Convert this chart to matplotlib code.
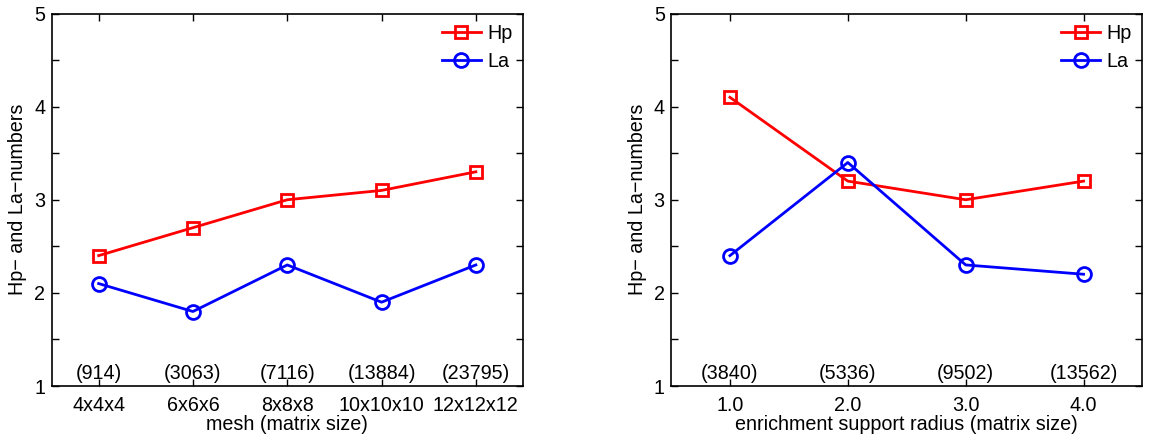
import matplotlib
matplotlib.use("Agg")
import matplotlib.pyplot as plt
from matplotlib.ticker import MultipleLocator

plt.rcParams['font.family'] = ['Liberation Sans', 'DejaVu Sans']

# Left panel data
mesh_labels = ['4x4x4', '6x6x6', '8x8x8', '10x10x10', '12x12x12']
mesh_sizes = ['(914)', '(3063)', '(7116)', '(13884)', '(23795)']
mesh_hp = [2.4, 2.7, 3.0, 3.1, 3.3]
mesh_la = [2.1, 1.8, 2.3, 1.9, 2.3]

# Right panel data
radius_labels = ['1.0', '2.0', '3.0', '4.0']
radius_sizes = ['(3840)', '(5336)', '(9502)', '(13562)']
radius_hp = [4.1, 3.2, 3.0, 3.2]
radius_la = [2.4, 3.4, 2.3, 2.2]

W, H = 1149, 436
fig = plt.figure(figsize=(W / 100, H / 100), dpi=100)
ax1 = fig.add_axes([51.5 / W, (H - 386) / H, 471.5 / W, 372.5 / H])
ax2 = fig.add_axes([671 / W, (H - 386) / H, 471.5 / W, 372.5 / H])

FS = 14.2

def draw(ax, labels, sizes, hp, la, xlabel):
    x = list(range(1, len(labels) + 1))
    ax.plot(x, hp, color='#ff0000', lw=2, marker='s', ms=8.5, mfc='none',
            mec='#ff0000', mew=2, label='Hp')
    ax.plot(x, la, color='#0000ff', lw=2, marker='o', ms=10, mfc='none',
            mec='#0000ff', mew=2, label='La')
    for xi, s in zip(x, sizes):
        ax.text(xi, 1.136, s, ha='center', va='center', fontsize=FS)
    ax.set_xlim(0.5, len(labels) + 0.5)
    ax.set_ylim(1, 5)
    ax.set_xticks(x)
    ax.set_xticklabels(labels, fontsize=FS)
    ax.set_yticks([1, 2, 3, 4, 5])
    ax.set_yticklabels(['1', '2', '3', '4', '5'], fontsize=FS)
    ax.yaxis.set_minor_locator(MultipleLocator(0.5))
    ax.tick_params(which='both', direction='in', top=True, right=True,
                   length=5, width=1)
    ax.tick_params(axis='x', which='both', pad=7)
    ax.tick_params(axis='y', which='both', pad=4.5)
    for sp in ax.spines.values():
        sp.set_linewidth(1.2)
    ax.set_xlabel(xlabel, fontsize=FS, labelpad=0)
    ax.set_ylabel('Hp\u2212 and La\u2212numbers', fontsize=FS, labelpad=5)
    ax.legend(loc='upper right', frameon=False, fontsize=FS,
              handlelength=2.0, handletextpad=0.3, labelspacing=0.45,
              borderaxespad=0.25, borderpad=0.3)

draw(ax1, mesh_labels, mesh_sizes, mesh_hp, mesh_la, 'mesh (matrix size)')
draw(ax2, radius_labels, radius_sizes, radius_hp, radius_la,
     'enrichment support radius (matrix size)')

fig.savefig('out.png', dpi=100)
